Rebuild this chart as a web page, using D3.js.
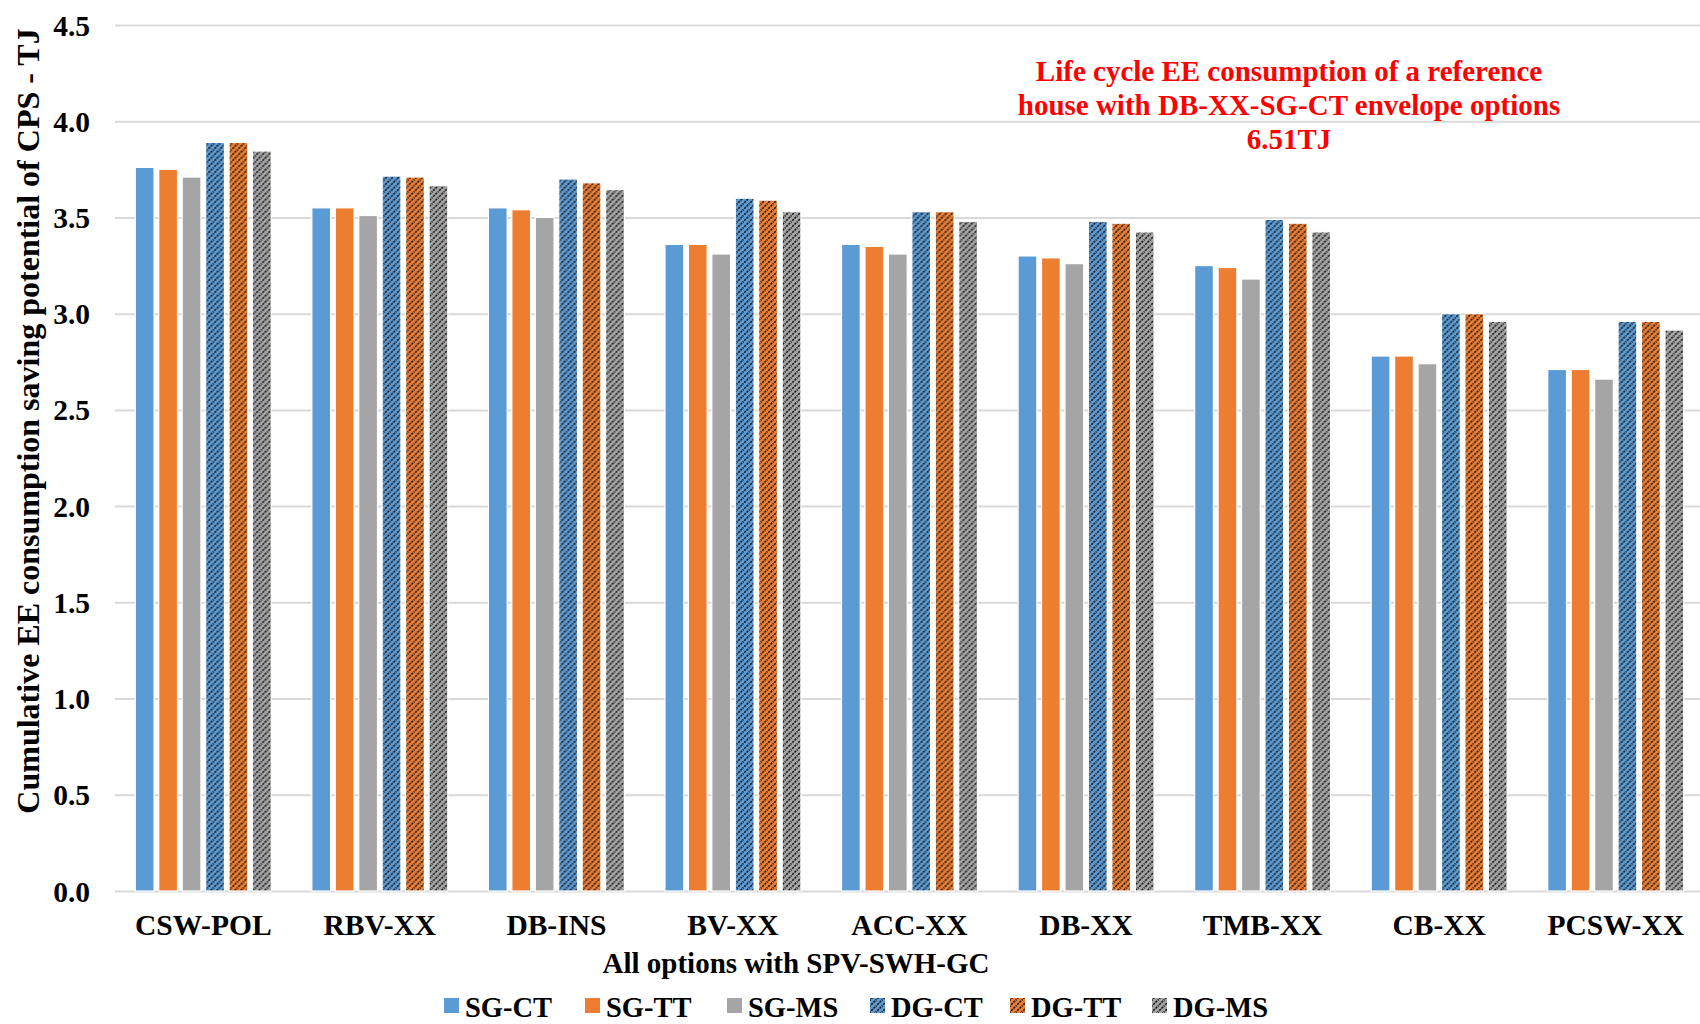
<!DOCTYPE html>
<html><head><meta charset="utf-8">
<script src="https://cdn.jsdelivr.net/npm/d3@7"></script>
<style>
body{margin:0;background:#fff;}
svg{display:block;font-family:"Liberation Serif","Times New Roman",serif;font-weight:bold;}
</style></head>
<body><svg id="chart" width="1700" height="1024"></svg>
<script>
const categories = ["CSW-POL","RBV-XX","DB-INS","BV-XX","ACC-XX","DB-XX","TMB-XX","CB-XX","PCSW-XX"];
const seriesNames = ["SG-CT","SG-TT","SG-MS","DG-CT","DG-TT","DG-MS"];
const sgCT = [3.76,3.55,3.55,3.36,3.36,3.30,3.25,2.78,2.71];
const sgTT = [3.75,3.55,3.54,3.36,3.35,3.29,3.24,2.78,2.71];
const sgMS = [3.71,3.51,3.50,3.31,3.31,3.26,3.18,2.74,2.66];
const dgCT = [3.89,3.715,3.70,3.60,3.53,3.48,3.49,3.00,2.96];
const dgTT = [3.89,3.71,3.68,3.59,3.53,3.47,3.47,3.00,2.96];
const dgMS = [3.845,3.665,3.645,3.53,3.48,3.425,3.425,2.96,2.915];
const seriesValues = [sgCT,sgTT,sgMS,dgCT,dgTT,dgMS];
const yTicks = [0,0.5,1.0,1.5,2.0,2.5,3.0,3.5,4.0,4.5];
const yTitle = "Cumulative EE consumption saving potential of CPS - TJ";
const xTitle = "All options with SPV-SWH-GC";
const noteLines = ["Life cycle EE consumption of a reference","house with DB-XX-SG-CT  envelope options","6.51TJ"];

const colors = ["#5b9bd5","#ed7d31","#a5a5a5","#5b9bd5","#ed7d31","#a5a5a5"];
const patterned = [false,false,false,true,true,true];

const svg = d3.select("#chart");
const defs = svg.append("defs");
colors.forEach((c,i)=>{
  if(!patterned[i]) return;
  const p = defs.append("pattern").attr("id","pat"+i).attr("patternUnits","userSpaceOnUse")
    .attr("width",6).attr("height",6);
  p.append("rect").attr("width",6).attr("height",6).attr("fill",c);
  p.append("path").attr("d","M-1,7 L7,-1 M-1,1 L1,-1 M5,7 L7,5").attr("stroke","#1a1a1a").attr("stroke-width",1.6).attr("stroke-dasharray","2.2,1");
});
const fillOf = i => patterned[i] ? `url(#pat${i})` : colors[i];
const FONT = "'Liberation Serif','Times New Roman',serif";

const mLeft = 115, mRight = 1704, mTop = 25, mBottom = 891;
const x0 = d3.scaleBand().domain(categories).range([mLeft,mRight]).paddingInner(0.23).paddingOuter(0.115);
const x1 = d3.scaleBand().domain(seriesNames).range([0,x0.bandwidth()]).paddingInner(0.2);
const y = d3.scaleLinear().domain([0,4.5]).range([mBottom,mTop]);

const yAxis = d3.axisLeft(y).tickValues(yTicks).tickFormat(d3.format(".1f")).tickSize(-(1700-mLeft)).tickPadding(25);
const gy = svg.append("g").attr("transform",`translate(${mLeft},0)`).call(yAxis);
gy.select(".domain").remove();
gy.selectAll(".tick line").attr("stroke","#d9d9d9").attr("stroke-width",2);
gy.selectAll(".tick text").attr("fill","#000").style("font-size","29.5px").style("font-family",FONT).style("font-weight","bold").attr("dy","0.34em");

const groups = svg.append("g").selectAll("g").data(categories).join("g")
  .attr("transform",d=>`translate(${x0(d)},0)`);
groups.selectAll("rect").data((c,ci)=>seriesNames.map((s,si)=>({s,si,v:seriesValues[si][ci]})))
  .join("rect")
  .attr("x",d=>x1(d.s)).attr("width",x1.bandwidth())
  .attr("y",d=>y(d.v)).attr("height",d=>y(0)-y(d.v))
  .attr("fill",d=>fillOf(d.si)).attr("stroke","#fff").attr("stroke-width",1.2);

const xAxis = d3.axisBottom(x0).tickSize(0).tickPadding(0);
const gx = svg.append("g").attr("transform",`translate(0,${mBottom})`).call(xAxis);
gx.select(".domain").remove();
gx.selectAll(".tick text").attr("fill","#000").attr("y",44).attr("dy",0)
  .style("font-size","29.5px").style("font-family",FONT).style("font-weight","bold");

svg.append("text").attr("transform",`translate(39,421) rotate(-90)`).attr("text-anchor","middle")
  .style("font-size","32px").text(yTitle);
svg.append("text").attr("x",796).attr("y",973).attr("text-anchor","middle").style("font-size","29px").text(xTitle);

svg.append("g").selectAll("text").data(noteLines).join("text")
  .attr("x",1289).attr("y",(d,i)=>81+i*34).attr("text-anchor","middle")
  .attr("fill","#ff0000").style("font-size","29px").text(d=>d);

const legendX = [444,585,727,870,1010,1152];
const lg = svg.append("g").selectAll("g").data(seriesNames).join("g")
  .attr("transform",(d,i)=>`translate(${legendX[i]},1006)`);
lg.append("rect").attr("x",0).attr("y",-8).attr("width",15).attr("height",15).attr("fill",(d,i)=>fillOf(i));
lg.append("text").attr("x",21).attr("y",11).style("font-size","28.5px").text(d=>d);
</script></body></html>
